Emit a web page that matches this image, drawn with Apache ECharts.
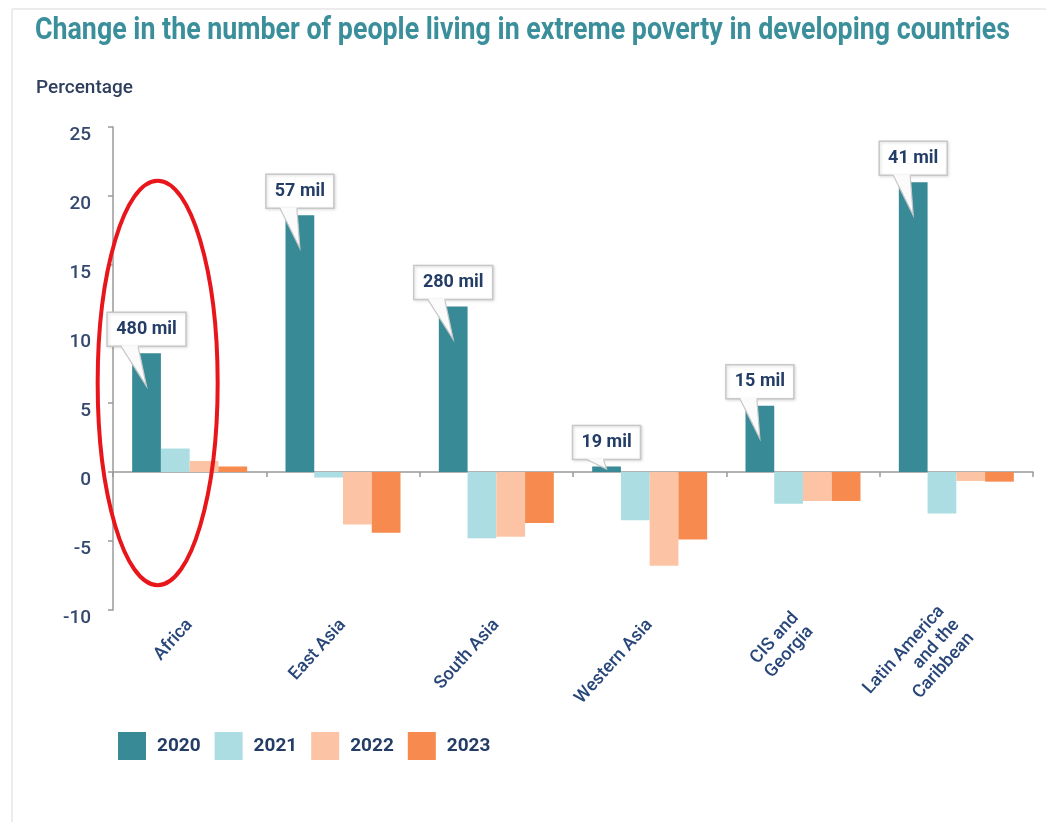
<!DOCTYPE html>
<html>
<head>
<meta charset="utf-8">
<script src="https://cdn.jsdelivr.net/npm/echarts@6/dist/echarts.min.js"></script>
<style>
  html, body { margin: 0; padding: 0; background: #fff; }
  #chart { width: 1046px; height: 822px; }
</style>
</head>
<body>
<div id="chart"></div>
<script>
// regions on the x axis
const regions = ['Africa', 'East Asia', 'South Asia', 'Western Asia', 'CIS and\nGeorgia', 'Latin America\nand the\nCaribbean']
const years = ['2020', '2021', '2022', '2023']

// percentage change
const v2020 = [8.6, 18.6, 12.0, 0.4, 4.8, 21.0]
const v2021 = [1.7, -0.4, -4.8, -3.5, -2.3, -3.0]
const v2022 = [0.8, -3.8, -4.7, -6.8, -2.1, -0.65]
const v2023 = [0.4, -4.4, -3.7, -4.9, -2.1, -0.7]

// callouts over the 2020 bars
const callouts = ['480 mil', '57 mil', '280 mil', '19 mil', '15 mil', '41 mil']

const colors = ['#378a96', '#abdde2', '#fcc4a4', '#f78b4f']
const navy = '#243d66'
const calloutFont = 'bold 18px Roboto'
const titleText = 'Change in the number of people living in extreme poverty in developing countries'

const measure = (txt, font) => {
  const ctx = document.createElement('canvas').getContext('2d')
  ctx.font = font
  return ctx.measureText(txt).width
}

const chart = echarts.init(document.getElementById('chart'))

const barSeries = [v2020, v2021, v2022, v2023].map((vals, i) => ({
  name: years[i],
  type: 'bar',
  xAxisIndex: 0,
  barGap: '0%',
  barCategoryGap: '25%',
  itemStyle: { color: colors[i] },
  data: vals
}))

const calloutSeries = {
  type: 'custom',
  name: 'callouts',
  xAxisIndex: 0,
  z: 10,
  silent: true,
  data: v2020.map((v, i) => [i, v]),
  renderItem: (params, api) => {
    const idx = api.value(0)
    const top = api.coord([idx, api.value(1)])
    const zeroY = api.coord([idx, 0])[1]
    const bandW = api.size([1, 0])[0]
    const barW = bandW * 0.75 / 4
    const cx = top[0] - 1.5 * barW
    const txt = callouts[idx]
    const boxW = Math.round(measure(txt, calloutFont) + 18)
    const boxH = 34
    const boxBottom = top[1] - 7
    const boxX = cx - boxW / 2
    const tipY = Math.min(top[1] + 33, zeroY - 3)
    const b1 = boxX + 14
    const b2 = boxX + 31
    return {
      type: 'group',
      children: [
        {
          type: 'rect',
          shape: { x: boxX, y: boxBottom - boxH, width: boxW, height: boxH },
          style: { fill: '#fff', stroke: '#c8c8c8', lineWidth: 1.5, shadowBlur: 3, shadowColor: 'rgba(0,0,0,0.15)', shadowOffsetX: 1, shadowOffsetY: 1 }
        },
        {
          type: 'polygon',
          shape: { points: [[b1, boxBottom - 1], [b2, boxBottom - 1], [cx, tipY]] },
          style: { fill: '#fbfbfb' }
        },
        {
          type: 'polyline',
          shape: { points: [[b1, boxBottom], [cx, tipY], [b2, boxBottom]] },
          style: { fill: null, stroke: '#c8c8c8', lineWidth: 1.2 }
        },
        {
          type: 'text',
          x: cx,
          y: boxBottom - boxH / 2,
          style: { text: txt, font: calloutFont, fill: navy, align: 'center', verticalAlign: 'middle' }
        }
      ]
    }
  }
}

const titleScale = 975 / measure(titleText, 'bold 32px Roboto')

chart.setOption({
  animation: false,
  grid: { left: 113, right: 13, top: 127, bottom: 212 },
  legend: {
    data: years,
    left: 113,
    top: 727,
    icon: 'rect',
    itemWidth: 28,
    itemHeight: 28,
    itemGap: 14,
    textStyle: { color: navy, fontSize: 19, fontWeight: 'bold', fontFamily: 'Roboto', padding: [0, 0, 0, 6] }
  },
  xAxis: [
    {
      type: 'category',
      data: regions,
      position: 'bottom',
      axisLine: { onZero: true, lineStyle: { color: '#9a9a9a', width: 1.5 } },
      axisTick: { show: true, length: 5, lineStyle: { color: '#9a9a9a', width: 1.5 } },
      axisLabel: { show: false }
    },
    {
      type: 'category',
      data: regions,
      position: 'bottom',
      axisLine: { show: false, onZero: false },
      axisTick: { show: false },
      axisLabel: {
        interval: 0,
        rotate: 48,
        margin: 12,
        color: '#28467a',
        fontSize: 18,
        fontWeight: 500,
        fontFamily: 'Roboto',
        lineHeight: 20
      }
    }
  ],
  yAxis: {
    type: 'value',
    min: -10,
    max: 25,
    interval: 5,
    axisLine: { show: true, lineStyle: { color: '#9a9a9a', width: 1.5 } },
    axisTick: { show: true, length: 5, lineStyle: { color: '#9a9a9a', width: 1.5 } },
    splitLine: { show: false },
    axisLabel: { color: '#34496d', fontSize: 19, fontWeight: 500, fontFamily: 'Roboto', margin: 22, verticalAlign: 'top', lineHeight: 16 }
  },
  series: [...barSeries, calloutSeries]
})

// red ring round the Africa group
const ringTop = chart.convertToPixel({ xAxisIndex: 0, yAxisIndex: 0 }, ['Africa', 21.1])
const ringBottom = chart.convertToPixel({ xAxisIndex: 0, yAxisIndex: 0 }, ['Africa', -8.2])

chart.setOption({
  graphic: [
    { type: 'line', shape: { x1: 12, y1: 9, x2: 1046, y2: 9 }, style: { stroke: '#ececec', lineWidth: 2 } },
    { type: 'line', shape: { x1: 12, y1: 9, x2: 12, y2: 822 }, style: { stroke: '#ececec', lineWidth: 2 } },
    {
      type: 'text',
      x: 35,
      y: 31,
      scaleX: titleScale,
      style: { text: titleText, font: 'bold 32px Roboto', fill: '#3a8f9b', verticalAlign: 'middle' }
    },
    {
      type: 'text',
      x: 36,
      y: 88,
      style: { text: 'Percentage', font: '500 19px Roboto', fill: '#2e3f5e', verticalAlign: 'middle' }
    },
    {
      type: 'ellipse',
      z: 20,
      shape: {
        cx: ringTop[0] - 32,
        cy: (ringTop[1] + ringBottom[1]) / 2,
        rx: 60,
        ry: (ringBottom[1] - ringTop[1]) / 2
      },
      style: { fill: null, stroke: '#e8151b', lineWidth: 4 }
    }
  ]
})
</script>
</body>
</html>
